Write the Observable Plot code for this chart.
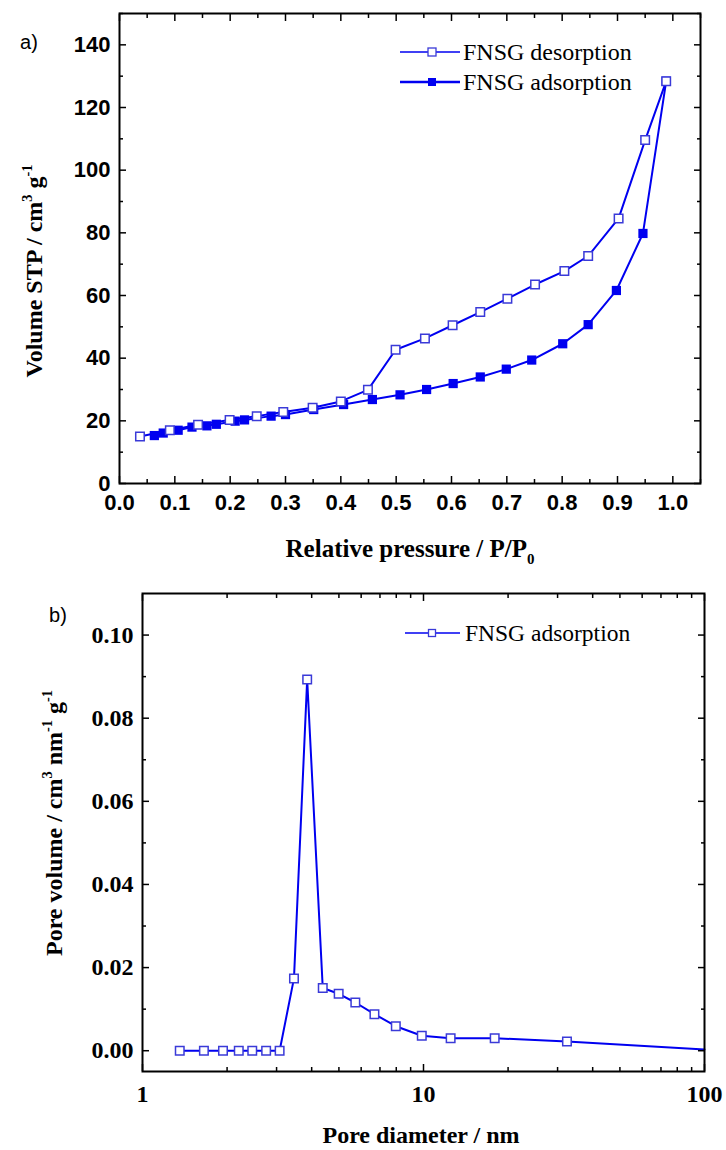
<!DOCTYPE html>
<html><head><meta charset="utf-8">
<script src="https://cdn.jsdelivr.net/npm/d3@7"></script>
<script src="https://cdn.jsdelivr.net/npm/@observablehq/plot@0.6"></script>
<style>
html,body{margin:0;padding:0;background:#fff;}
#chart svg{display:block;}
</style></head><body><div id="chart"></div>
<script>
// ---- Panel a) isotherm data ----
const desP = [0.988,0.950,0.902,0.847,0.804,0.751,0.701,0.652,0.602,0.552,0.499,0.449,0.400,0.349,0.296,0.248,0.199,0.142,0.091,0.037];
const desV = [128.4,109.6,84.6,72.6,67.8,63.5,59.0,54.7,50.5,46.3,42.7,29.9,26.2,24.2,22.8,21.5,20.3,18.75,17.0,15.0];
const adsP = [0.063,0.079,0.106,0.131,0.158,0.175,0.209,0.226,0.274,0.300,0.351,0.405,0.457,0.507,0.555,0.603,0.652,0.699,0.745,0.801,0.847,0.898,0.946,0.988];
const adsV = [15.3,16.1,17.0,18.0,18.4,18.9,19.9,20.3,21.5,22.0,23.6,25.2,26.8,28.3,30.0,31.9,34.0,36.5,39.4,44.6,50.7,61.6,79.8,128.4];
// ---- Panel b) pore size distribution ----
const poreD = [1.357,1.654,1.934,2.201,2.458,2.754,3.076,3.46,3.855,4.38,4.99,5.72,6.69,7.97,9.86,12.49,17.92,32.4,100];
const poreV = [0,0,0,0,0,0,0,0.0174,0.0893,0.0151,0.0137,0.0116,0.0088,0.0059,0.0036,0.0030,0.0030,0.0022,0.0003];
// ---- tick values ----
const xMajorA = [0,0.1,0.2,0.3,0.4,0.5,0.6,0.7,0.8,0.9,1.0];
const xMinorA = [0.05,0.15,0.25,0.35,0.45,0.55,0.65,0.75,0.85,0.95,1.05];
const yMajorA = [0,20,40,60,80,100,120,140];
const yMinorA = [10,30,50,70,90,110,130,150];
const xMajorB = [1,10,100];
const xMinorB = [2,3,4,5,6,7,8,9,20,30,40,50,60,70,80,90];
const yMajorB = [0,0.02,0.04,0.06,0.08,0.10];
const yMinorB = [0.01,0.03,0.05,0.07,0.09];
// ---- texts ----
const legendA = ["FNSG desorption","FNSG adsorption"];
const legendB = ["FNSG adsorption"];

const blue = "#0000f0";
const openStroke = "#3a3ad8";
const serif = "'Times New Roman','Liberation Serif',serif";
const sans = "Arial,'Liberation Sans',sans-serif";
const W = 726;

const des = desP.map((p,i)=>({p, v:desV[i]}));
const ads = adsP.map((p,i)=>({p, v:adsV[i]}));
const pore = poreD.map((d,i)=>({d, v:poreV[i]}));

function tickAxes(xMaj, xMin, yMaj, yMin) {
  return [
    Plot.axisX(xMaj,{anchor:"bottom",tickSize:7,dy:-7,fill:"none",strokeWidth:1.5}),
    Plot.axisX(xMin,{anchor:"bottom",tickSize:4,dy:-4,fill:"none",strokeWidth:1.5}),
    Plot.axisX(xMaj,{anchor:"top",tickSize:7,dy:7,fill:"none",strokeWidth:1.5}),
    Plot.axisX(xMin,{anchor:"top",tickSize:4,dy:4,fill:"none",strokeWidth:1.5}),
    Plot.axisY(yMaj,{anchor:"left",tickSize:7,dx:7,fill:"none",strokeWidth:1.5}),
    Plot.axisY(yMin,{anchor:"left",tickSize:4,dx:4,fill:"none",strokeWidth:1.5}),
    Plot.axisY(yMaj,{anchor:"right",tickSize:7,dx:-7,fill:"none",strokeWidth:1.5}),
    Plot.axisY(yMin,{anchor:"right",tickSize:4,dx:-4,fill:"none",strokeWidth:1.5})
  ];
}

const plotA = Plot.plot({
  width: W, height: 570,
  marginLeft:119, marginRight:26, marginTop:13, marginBottom:87,
  style:{background:"white", overflow:"visible", color:"black"},
  x:{domain:[0,1.05]}, y:{domain:[0,150]},
  marks:[
    Plot.line(ads,{x:"p",y:"v",stroke:blue,strokeWidth:2}),
    Plot.dot(ads,{x:"p",y:"v",symbol:"square",r:5.2,fill:blue,stroke:"none"}),
    Plot.line(des,{x:"p",y:"v",stroke:blue,strokeWidth:2}),
    Plot.dot(des,{x:"p",y:"v",symbol:"square",r:4.8,fill:"white",stroke:openStroke,strokeWidth:1.5}),
    ...tickAxes(xMajorA,xMinorA,yMajorA,yMinorA),
    Plot.axisX(xMajorA,{anchor:"bottom",tickSize:0,tickPadding:11,tickFormat:d=>d.toFixed(1),fontSize:22,fontWeight:"bold",fontFamily:sans,label:null,fill:"black"}),
    Plot.axisY(yMajorA,{anchor:"left",tickSize:0,tickPadding:9,tickFormat:d=>String(d),fontSize:22,fontWeight:"bold",fontFamily:sans,label:null,fill:"black"}),
    Plot.frame({stroke:"black",strokeWidth:2})
  ]
});

const plotB = Plot.plot({
  width: W, height: 580,
  marginLeft:142, marginRight:22, marginTop:23, marginBottom:79,
  style:{background:"white", overflow:"visible", color:"black"},
  x:{type:"log", domain:[1,100]}, y:{domain:[-0.005,0.11]},
  marks:[
    Plot.line(pore,{x:"d",y:"v",stroke:blue,strokeWidth:2}),
    Plot.dot(pore,{filter:d=>d.d<100,x:"d",y:"v",symbol:"square",r:4.8,fill:"white",stroke:openStroke,strokeWidth:1.5}),
    ...tickAxes(xMajorB,xMinorB,yMajorB,yMinorB),
    Plot.axisX(xMajorB,{anchor:"bottom",tickSize:0,tickPadding:13,tickFormat:d=>String(d),fontSize:24,fontWeight:"bold",fontFamily:serif,label:null,fill:"black"}),
    Plot.axisY(yMajorB,{anchor:"left",tickSize:0,tickPadding:9,tickFormat:d=>d.toFixed(2),fontSize:24,fontWeight:"bold",fontFamily:serif,label:null,fill:"black"}),
    Plot.frame({stroke:"black",strokeWidth:2})
  ]
});

const root = document.getElementById("chart");
root.appendChild(plotA);
root.appendChild(plotB);

function addText(svg, opts, parts) {
  const t = svg.append("text")
    .attr("transform", opts.transform)
    .attr("text-anchor", opts.anchor || "middle")
    .attr("font-family", opts.family || serif)
    .attr("font-weight", opts.weight || "bold")
    .attr("font-size", opts.size)
    .attr("fill", "black");
  let shift = 0;
  parts.forEach(p => {
    const s = t.append("tspan").text(p.t);
    const target = p.sup ? -opts.size*0.42 : p.sub ? opts.size*0.28 : 0;
    if (target !== shift) { s.attr("dy", target - shift); shift = target; }
    if (p.sup || p.sub) s.attr("font-size", opts.size*0.6);
  });
  return t;
}

const sA = d3.select(plotA);
const sB = d3.select(plotB);

// panel letters
addText(sA,{transform:"translate(29,49)",size:20,family:sans,weight:"normal"},[{t:"a)"}]);
addText(sB,{transform:"translate(58,52)",size:20,family:sans,weight:"normal"},[{t:"b)"}]);

// axis titles
addText(sA,{transform:"translate(42,271) rotate(-90)",size:24},
  [{t:"Volume STP / cm"},{t:"3",sup:true},{t:" g"},{t:"-1",sup:true}]);
addText(sA,{transform:"translate(410,557)",size:25},
  [{t:"Relative pressure / P/P"},{t:"0",sub:true}]);
addText(sB,{transform:"translate(62,253) rotate(-90)",size:24},
  [{t:"Pore volume / cm"},{t:"3",sup:true},{t:" nm"},{t:"-1",sup:true},{t:" g"},{t:"-1",sup:true}]);
addText(sB,{transform:"translate(421,573)",size:24},
  [{t:"Pore diameter / nm"}]);

// legends
function legendRow(svg, y, label, open, sw, size, x1, x2, xm, xt, fs) {
  svg.append("line").attr("x1",x1).attr("x2",x2).attr("y1",y).attr("y2",y)
    .attr("stroke",blue).attr("stroke-width",sw);
  svg.append("rect").attr("x",xm-size/2).attr("y",y-size/2).attr("width",size).attr("height",size)
    .attr("fill",open?"white":blue).attr("stroke",open?openStroke:"none").attr("stroke-width",1.3);
  svg.append("text").attr("x",xt).attr("y",y+fs*0.34).attr("text-anchor","start")
    .attr("font-family",serif).attr("font-size",fs).attr("fill","black").text(label);
}
legendRow(sA,52,legendA[0],true,1.5,8,400,460,432,463,24);
legendRow(sA,82,legendA[1],false,2.5,8,400,460,432,463,24);
legendRow(sB,63,legendB[0],true,1.5,7,405,460,432,465,23.5);
</script></body></html>
